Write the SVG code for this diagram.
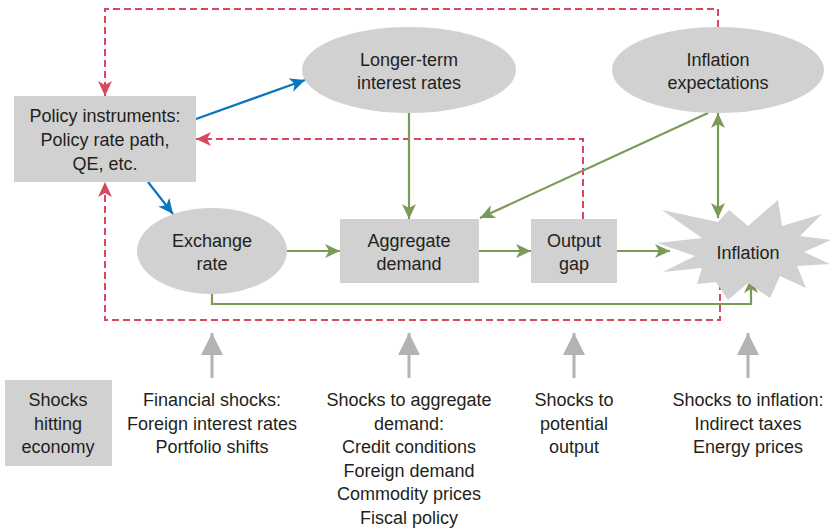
<svg xmlns="http://www.w3.org/2000/svg" width="831" height="531" viewBox="0 0 831 531">
<defs>
<style>
text{font-family:"Liberation Sans",Arial,sans-serif;font-size:18px;fill:#231f20;text-anchor:middle}
.box{fill:#d1d1d1}
.g{stroke:#7a9a58;stroke-width:2.2;fill:none}
.b{stroke:#0a75bd;stroke-width:2.2;fill:none}
.r{stroke:#d9475f;stroke-width:2;fill:none;stroke-dasharray:7 4}
.s{stroke:#b3b3b3;stroke-width:3;fill:none}
</style>
<marker id="mg" markerUnits="userSpaceOnUse" markerWidth="16" markerHeight="14" refX="15" refY="7" orient="auto-start-reverse"><path d="M0,0 L15,7 L0,14 L4,7 Z" fill="#7a9a58"/></marker>
<marker id="mb" markerUnits="userSpaceOnUse" markerWidth="16" markerHeight="14" refX="15" refY="7" orient="auto"><path d="M0,0 L15,7 L0,14 L4,7 Z" fill="#0a75bd"/></marker>
<marker id="mr" markerUnits="userSpaceOnUse" markerWidth="16" markerHeight="14" refX="15" refY="7" orient="auto"><path d="M0,0 L15,7 L0,14 L4,7 Z" fill="#d9475f"/></marker>
<marker id="ms" markerUnits="userSpaceOnUse" markerWidth="24" markerHeight="22" refX="22" refY="11" orient="auto"><path d="M0,0 L22,11 L0,22 Z" fill="#b3b3b3"/></marker>
</defs>
<rect width="831" height="531" fill="#ffffff"/>

<g id="connectors">
<path class="r" d="M718,27 V9 H105 V96" marker-end="url(#mr)"/>
<path class="r" d="M583,219 V139 H196" marker-end="url(#mr)"/>
<path class="r" d="M720,283 V320 H105 V182" marker-end="url(#mr)"/>
<path class="b" d="M196,119 L305,80" marker-end="url(#mb)"/>
<path class="b" d="M148,182 L173,214" marker-end="url(#mb)"/>
<path class="g" d="M409,113 V219" marker-end="url(#mg)"/>
<path class="g" d="M708,113 L480,218" marker-end="url(#mg)"/>
<path class="g" d="M718,113 V218" marker-start="url(#mg)" marker-end="url(#mg)"/>
<path class="g" d="M287,251 H340" marker-end="url(#mg)"/>
<path class="g" d="M479,251 H531" marker-end="url(#mg)"/>
<path class="g" d="M617,251 H670" marker-end="url(#mg)"/>
<path class="g" d="M212,293 V304 H751 V278" marker-end="url(#mg)"/>
<path class="s" d="M212,378 V333" marker-end="url(#ms)"/>
<path class="s" d="M409,378 V333" marker-end="url(#ms)"/>
<path class="s" d="M574,378 V333" marker-end="url(#ms)"/>
<path class="s" d="M748,378 V333" marker-end="url(#ms)"/>
</g>

<g id="policy">
<rect class="box" x="14" y="96" width="182" height="86"/>
<text x="105" y="122">Policy instruments:</text>
<text x="105" y="146">Policy rate path,</text>
<text x="105" y="170">QE, etc.</text>
</g>

<g id="longer-term">
<ellipse class="box" cx="409" cy="70" rx="107" ry="43"/>
<text x="409" y="66">Longer-term</text>
<text x="409" y="89">interest rates</text>
</g>

<g id="expectations">
<ellipse class="box" cx="718" cy="70" rx="106" ry="43"/>
<text x="718" y="66">Inflation</text>
<text x="718" y="89">expectations</text>
</g>

<g id="exchange">
<ellipse class="box" cx="212" cy="251" rx="75" ry="43"/>
<text x="212" y="247">Exchange</text>
<text x="212" y="270">rate</text>
</g>

<g id="aggregate">
<rect class="box" x="340" y="219" width="139" height="64"/>
<text x="409" y="247">Aggregate</text>
<text x="409" y="270">demand</text>
</g>

<g id="output-gap">
<rect class="box" x="531" y="219" width="86" height="64"/>
<text x="574" y="247">Output</text>
<text x="574" y="270">gap</text>
</g>

<g id="inflation">
<polygon class="box" points="657,243 702,238 662,210 718,222 729,210 748,226 778,200 782,226 822,214 800,236 831,240 804,252 830,264 797,266 806,288 780,276 770,298 748,283 728,300 716,282 697,284 702,268 663,272 695,256"/>
<text x="748" y="259">Inflation</text>
</g>

<g id="shocks">
<rect class="box" x="5" y="380" width="107" height="86"/>
<text x="58" y="406">Shocks</text>
<text x="58" y="430">hitting</text>
<text x="58" y="453">economy</text>
</g>

<g id="financial-shocks">
<text x="212" y="406">Financial shocks:</text>
<text x="212" y="430">Foreign interest rates</text>
<text x="212" y="453">Portfolio shifts</text>
</g>

<g id="demand-shocks">
<text x="409" y="406">Shocks to aggregate</text>
<text x="409" y="430">demand:</text>
<text x="409" y="453">Credit conditions</text>
<text x="409" y="477">Foreign demand</text>
<text x="409" y="500">Commodity prices</text>
<text x="409" y="524">Fiscal policy</text>
</g>

<g id="potential-shocks">
<text x="574" y="406">Shocks to</text>
<text x="574" y="430">potential</text>
<text x="574" y="453">output</text>
</g>

<g id="inflation-shocks">
<text x="748" y="406">Shocks to inflation:</text>
<text x="748" y="430">Indirect taxes</text>
<text x="748" y="453">Energy prices</text>
</g>
</svg>
